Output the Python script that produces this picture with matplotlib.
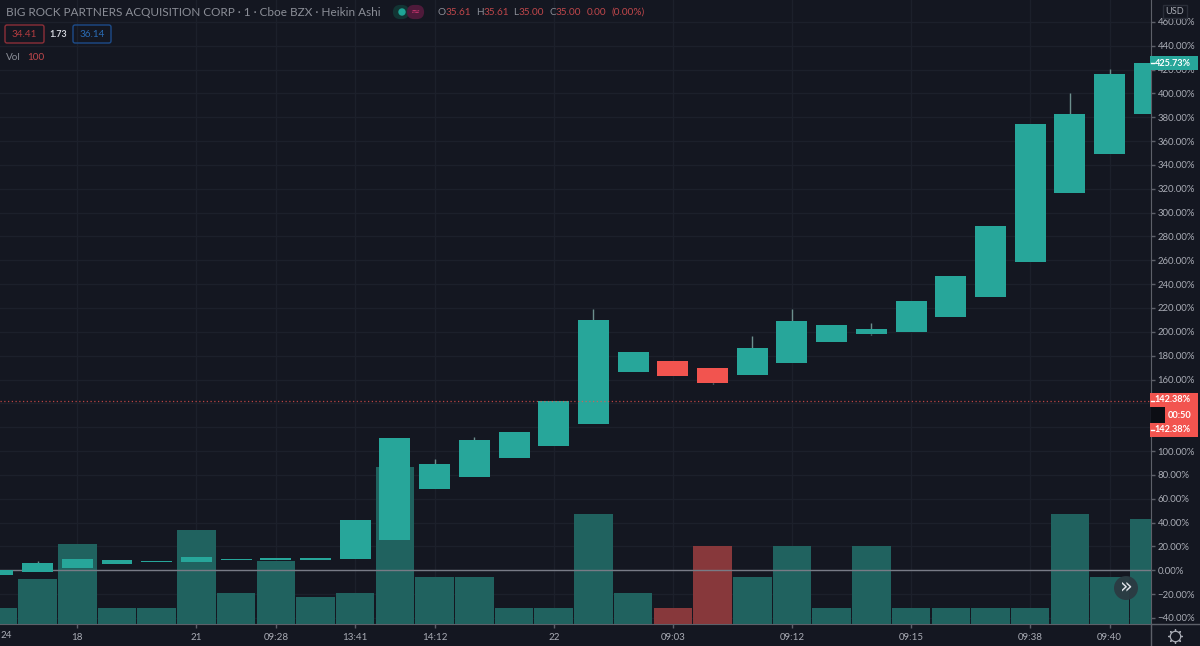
"""Heikin Ashi percent chart with volume, dark trading-terminal look."""

import numpy as np
import matplotlib
matplotlib.use("Agg")
import matplotlib.pyplot as plt
from matplotlib.lines import Line2D
from matplotlib.patches import Circle, FancyBboxPatch, Rectangle

# bars run from -2 to 27, the first and the last one are cut by the frame
bar_index = list(range(-2, 28))

opens = [-3.7, -1.4, 2.2, 5.5, 7.0, 7.0, 8.4, 8.6, 8.6, 9.2,
         25.4, 67.9, 78.5, 93.9, 104.5, 123.0, 166.3, 175.5, 169.4, 163.5,
         174.1, 191.7, 198.4, 200.1, 212.7, 229.5, 258.8, 316.2, 349.2, 382.7]
closes = [0.5, 6.4, 9.7, 8.6, 7.8, 11.2, 9.7, 10.1, 10.1, 41.9,
          111.0, 89.4, 109.0, 115.7, 142.4, 209.9, 183.3, 162.7, 157.3, 186.2,
          209.3, 205.5, 202.6, 226.1, 246.8, 288.8, 374.1, 382.5, 416.5, 425.7]
highs = [0.5, 8.1, 9.7, 8.6, 7.8, 11.2, 9.7, 10.1, 10.1, 41.9,
         111.0, 93.6, 111.8, 115.7, 142.4, 218.9, 183.3, 175.5, 169.4, 196.5,
         218.9, 205.5, 207.7, 226.1, 246.8, 288.8, 374.1, 400.1, 420.2, 425.7]
lows = [-3.7, -1.4, 2.2, 5.5, 7.0, 7.0, 8.4, 8.6, 8.6, 9.2,
        25.4, 67.9, 78.5, 93.9, 104.5, 123.0, 166.3, 162.7, 156.2, 163.5,
        174.1, 191.7, 197.1, 200.1, 212.7, 229.5, 258.8, 316.2, 349.2, 382.7]
volumes = [100, 290, 510, 100, 100, 600, 200, 400, 170, 200,
           1000, 300, 300, 100, 100, 700, 200, 100, 500, 300,
           500, 100, 500, 100, 100, 100, 100, 700, 300, 670]

x_ticks = [0, 3, 5, 7, 9, 12, 15, 18, 21, 24, 26]
x_labels = ["18", "21", "09:28", "13:41", "14:12", "22", "09:03", "09:12",
            "09:15", "09:38", "09:40"]
y_ticks = list(range(-40, 461, 20))
# these two sit behind the last-price tags, the chart does not print them
y_hidden = [120, 140]
last_price = 142.38

BG = "#141721"
GRID = "#1c202b"
LINE = "#5d6069"
TEXT = "#a9acb5"
TEAL = "#27a69a"
RED = "#f2544f"
VOL_TEAL = "#20625f"
VOL_RED = "#87383b"
WICK = "#6c8f8d"

plt.rcParams["font.family"] = ["Lato", "DejaVu Sans"]

fig = plt.figure(figsize=(12, 6.46), dpi=100, facecolor=BG)
rect = [0, 22 / 646, 1150.5 / 1200, 624 / 646]

# base axes: grid, ticks, frame
ax = fig.add_axes(rect, facecolor=BG)
ax.set_xlim(-1.947, 27.03)
ax.set_ylim(-45.04, 478.3)
ax.yaxis.tick_right()
y_labels = ["" if v in y_hidden else f"{v:.2f}%".replace("-", "\u2212") for v in y_ticks]
ax.set_yticks(y_ticks, y_labels)
ax.set_xticks(x_ticks, x_labels)
ax.tick_params(axis="y", length=3, width=1, color=LINE, labelcolor=TEXT,
               labelsize=6.9, pad=2)
ax.tick_params(axis="x", length=3, width=1, color=LINE, labelcolor=TEXT,
               labelsize=7, pad=3.5)
ax.grid(True, color=GRID, linewidth=1)
ax.set_axisbelow(True)
for side in ("top", "left"):
    ax.spines[side].set_visible(False)
for side in ("right", "bottom"):
    ax.spines[side].set_color(LINE)

# volume has its own scale, 100 shares are about 15.65 px high
ax_vol = fig.add_axes(rect, sharex=ax)
ax_vol.patch.set_visible(False)
ax_vol.set_ylim(0, 3987)
ax_vol.axis("off")
vol_colors = [VOL_TEAL if c >= o else VOL_RED for o, c in zip(opens, closes)]
ax_vol.bar(bar_index, volumes, width=0.97, color=vol_colors)

# candles on top
ax_c = fig.add_axes(rect, sharex=ax, sharey=ax)
ax_c.patch.set_visible(False)
ax_c.axis("off")
o = np.array(opens)
c = np.array(closes)
idx = np.array(bar_index)
hi = np.array(highs)
lo = np.array(lows)
body_top = np.maximum(o, c)
body_bot = np.minimum(o, c)
colors = [TEAL if b >= a else RED for a, b in zip(opens, closes)]
ax_c.axhline(0, color="#787b86", linewidth=1, zorder=1)
# only bars that really have a wick get a line
up = hi > body_top
down = lo < body_bot
ax_c.vlines(idx[up], body_top[up], hi[up], color=WICK, linewidth=1, capstyle="butt", zorder=2)
ax_c.vlines(idx[down], lo[down], body_bot[down], color=WICK, linewidth=1, capstyle="butt", zorder=2)
ax_c.bar(bar_index, body_top - body_bot, bottom=body_bot, width=0.78,
         color=colors, zorder=3)
ax_c.axhline(last_price, color=RED, linewidth=0.9, linestyle=(0, (1, 2)),
             alpha=0.75, zorder=4)

# everything around the plot is placed in pixels on a full-size overlay
ui = fig.add_axes([0, 0, 1, 1])
ui.set_xlim(0, 1200)
ui.set_ylim(646, 0)
ui.axis("off")
ui.add_line(Line2D([1150.5, 1150.5], [624, 646], color=LINE, linewidth=1))
ui.add_line(Line2D([1150.5, 1200], [624, 624], color=LINE, linewidth=1))

ui.text(0.5, 636, "24", color=TEXT, fontsize=7, va="center", ha="left")

# header
HEAD = "#8b8e97"
DIM_RED = "#c0474b"
ui.text(6, 12.5, "BIG ROCK PARTNERS ACQUISITION CORP \u00b7 1 \u00b7 Cboe BZX \u00b7 Heikin Ashi",
        color=HEAD, fontsize=8.45, va="center")
ui.add_patch(FancyBboxPatch((395, 7), 12, 10, boxstyle="round,pad=0,rounding_size=5",
                            facecolor="#123433", edgecolor="#123433", linewidth=3))
ui.add_patch(FancyBboxPatch((409, 7), 13, 10, boxstyle="round,pad=0,rounding_size=5",
                            facecolor="#4e1a3a", edgecolor="#4e1a3a", linewidth=3))
ui.add_patch(Circle((402, 12), 3, color="#1fa596"))
ui.text(415.5, 12, "\u2248", color="#c8356f", fontsize=8, ha="center", va="center",
        family="DejaVu Sans")

for x, label, col in [(438, "O", HEAD), (446, "35.61", DIM_RED), (476, "H", HEAD),
                      (484, "35.61", DIM_RED), (513, "L", HEAD), (519, "35.00", DIM_RED),
                      (550, "C", HEAD), (556, "35.00", DIM_RED), (587, "0.00", DIM_RED),
                      (611, "(0.00%)", DIM_RED)]:
    ui.text(x, 12.5, label, color=col, fontsize=7.2, va="center")

for x, w, label, col, txt in [(5, 39, "34.41", "#8c2f38", "#b23c40"),
                              (73, 38, "36.14", "#1d4c8a", "#2a6cb5")]:
    ui.add_patch(FancyBboxPatch((x, 25), w, 18, boxstyle="round,pad=0,rounding_size=2",
                                facecolor="none", edgecolor=col, linewidth=1))
    ui.text(x + w / 2, 34.5, label, color=txt, fontsize=7.2, ha="center", va="center")
ui.text(58.5, 34.5, "1.73", color="#d1d4dc", fontsize=6.4, fontweight="bold",
        ha="center", va="center")
ui.text(6, 57, "Vol", color=HEAD, fontsize=7.2, va="center")
ui.text(27, 57, "100", color=DIM_RED, fontsize=7.2, va="center")

# price axis labels
ui.add_patch(Rectangle((1163, 5), 24, 13, facecolor=BG, edgecolor="#2a2e39", linewidth=1))
ui.text(1175, 11.5, "USD", color=TEXT, fontsize=6.6, ha="center", va="center")

for y0, h, bx, bw, label, col in [(56, 14, 1150, 48, "425.73%", TEAL),
                                  (393, 14, 1150, 48, "142.38%", RED),
                                  (407, 16, 1165, 33, "00:50", RED),
                                  (423, 14, 1150, 48, "142.38%", RED)]:
    ui.add_patch(Rectangle((bx, y0), bw, h, facecolor=col, edgecolor="none", zorder=5))
    ui.text(1191, y0 + h / 2, label, color="white", fontsize=6.6, fontweight="bold",
            ha="right", va="center", zorder=6)
for yy in (63, 400.5, 430):
    ui.add_line(Line2D([1150.5, 1154], [yy, yy], color="white", linewidth=1, zorder=6))
ui.add_patch(Rectangle((1151, 407), 14, 16, facecolor="#0c0e14", edgecolor="none", zorder=5))

# scroll button and settings gear
ui.add_patch(Circle((1126, 588), 12, facecolor="#2b3a42", edgecolor="none", alpha=0.95))
ui.text(1126, 586.5, "\u00bb", color="#dfe2e8", fontsize=15, ha="center", va="center",
        family="DejaVu Sans")
ui.plot([1175], [636], marker=(8, 2, 0), markersize=10.5, color=TEXT, markeredgewidth=0.9)
ui.plot([1175], [636], marker="o", markersize=7.5, markerfacecolor=BG,
        markeredgecolor=TEXT, markeredgewidth=0.9)

fig.savefig("out.png", dpi=100, facecolor=BG)
